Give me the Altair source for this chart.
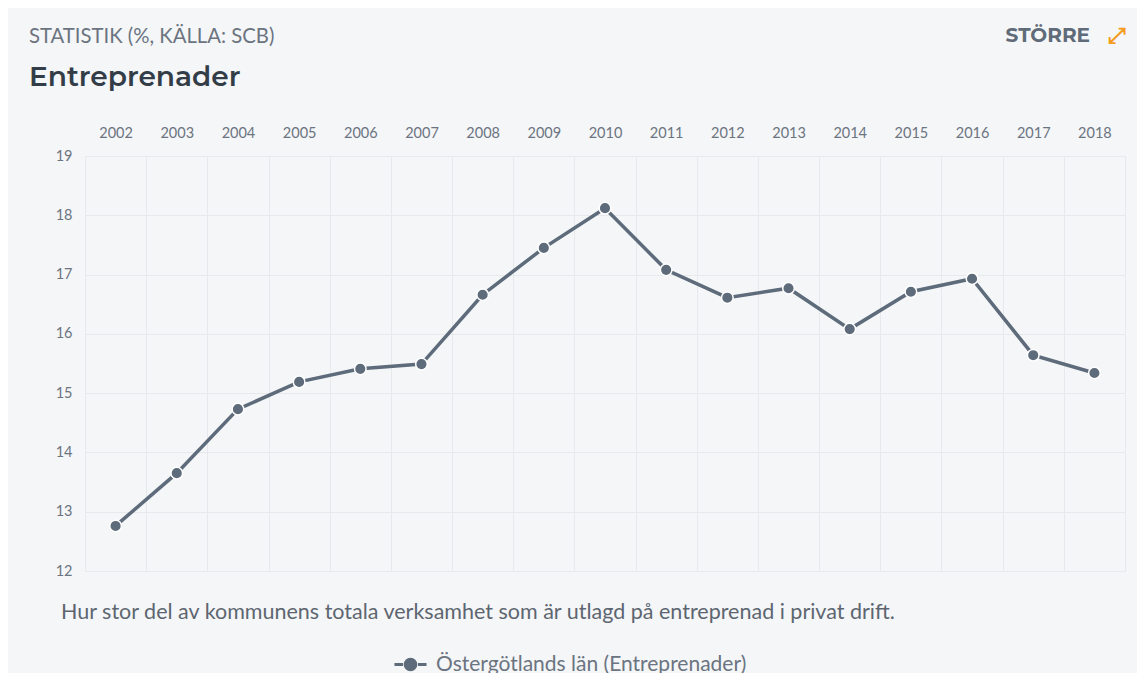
import altair as alt
import pandas as pd

years = [str(y) for y in range(2002, 2019)]
values = [12.76, 13.65, 14.73, 15.19, 15.41, 15.49, 16.66, 17.45, 18.12,
          17.08, 16.61, 16.77, 16.08, 16.71, 16.93, 15.64, 15.34]
series_name = "Östergötlands län (Entreprenader)"
y_ticks = [12, 13, 14, 15, 16, 17, 18, 19]

BG = "#f5f6f8"
LINE = "#5d6b7a"
TXT = "#6b7480"
FONT = "Lato"

df = pd.DataFrame({"year": years, "value": values, "serie": [series_name] * len(years)})

x_enc = alt.X("year:N", title=None, sort=years,
              scale=alt.Scale(paddingInner=0, paddingOuter=0),
              axis=alt.Axis(orient="top", tickBand="extent", labelAngle=0, labelPadding=16,
                            ticks=False, domain=False, grid=True, gridColor="#e7e9ec",
                            labelFontSize=14.5, labelColor=TXT, labelFont=FONT))
y_enc = alt.Y("value:Q", title=None,
              scale=alt.Scale(domain=[12, 19], nice=False, zero=False),
              axis=alt.Axis(values=y_ticks, ticks=False, domain=False, grid=True,
                            gridColor="#e7e9ec", labelPadding=13, labelFontSize=14.5,
                            labelColor=TXT, labelFont=FONT))
color_enc = alt.Color("serie:N", title=None,
                      scale=alt.Scale(range=[LINE]),
                      legend=alt.Legend(orient="none", legendX=313, legendY=496,
                                        labelFontSize=21, labelColor=TXT, labelFont=FONT,
                                        labelLimit=0,
                                        symbolType="M-1.5,0H-0.7M-0.5,0A0.5,0.5,0,1,1,0.5,0A0.5,0.5,0,1,1,-0.5,0M0.7,0H1.5",
                                        symbolSize=457, symbolStrokeWidth=3,
                                        symbolFillColor=LINE, symbolStrokeColor=LINE,
                                        labelOffset=13))

base = alt.Chart(df)
line = base.mark_line(strokeWidth=3.5, color=LINE).encode(x=x_enc, y=y_enc, color=color_enc)
pts = base.mark_point(filled=True, size=135, opacity=1, stroke="white", strokeWidth=1.5,
                      fill=LINE).encode(x=x_enc, y=y_enc)

def label(text, x, y, size, color, font=FONT, weight="normal", align="left"):
    return alt.Chart(pd.DataFrame({"t": [text]})).mark_text(
        fontSize=size, color=color, font=font, fontWeight=weight, align=align,
        baseline="middle").encode(text="t:N", x=alt.value(x), y=alt.value(y))

header = label("STATISTIK (%, KÄLLA: SCB)", -56, -119, 20.3, TXT)
title = label("Entreprenader", -56, -78, 28, "#333d47", font="Montserrat, Inter", weight=600)
storre = label("STÖRRE", 1005, -120, 20, "#5f6b78", font="Montserrat, Inter", weight="bold", align="right")
icon = label("⤢", 1032, -120, 22, "#f39c1f", font="DejaVu Sans", weight="bold", align="center")
caption = label("Hur stor del av kommunens totala verksamhet som är utlagd på entreprenad i privat drift.",
                -24, 457, 21.5, "#5d6670")

chart = alt.layer(line, pts, header, title, storre, icon, caption).properties(
    width=1040, height=415,
    background=BG,
    autosize=alt.AutoSizeParams(type="none"),
    padding={"left": 77, "top": 148, "right": 12, "bottom": 102},
).configure_view(stroke=None)

chart.save("out.html", embed_options={"renderer": "svg", "actions": False})
